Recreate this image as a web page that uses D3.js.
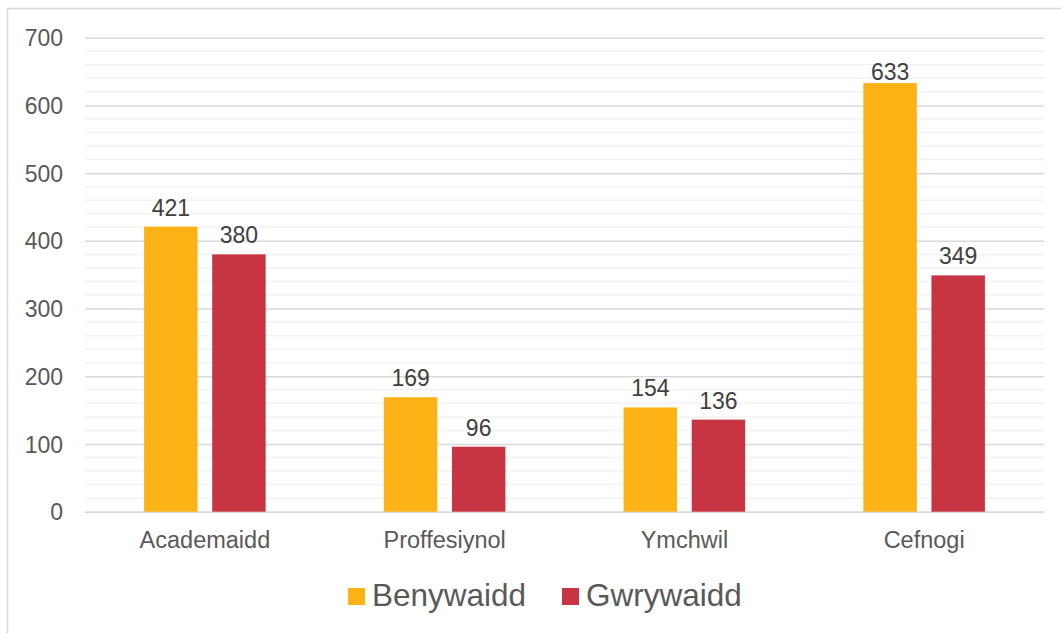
<!DOCTYPE html>
<html>
<head>
<meta charset="utf-8">
<script src="https://cdn.jsdelivr.net/npm/d3@7"></script>
<style>
  html, body { margin: 0; padding: 0; background: #fff; }
  svg { display: block; font-family: "Liberation Sans", Arial, sans-serif; }
</style>
</head>
<body>
<svg id="chart" width="1061" height="633"></svg>
<script>
const categories = ["Academaidd", "Proffesiynol", "Ymchwil", "Cefnogi"];
const seriesNames = ["Benywaidd", "Gwrywaidd"];
const benywaidd = [421, 169, 154, 633];
const gwrywaidd = [380, 96, 136, 349];
const seriesColors = ["#FDB316", "#C83542"];
const yTicks = [0, 100, 200, 300, 400, 500, 600, 700];

const seriesValues = [benywaidd, gwrywaidd];
const svg = d3.select("#chart");
const W = 1061, H = 633;
const plot = { left: 85, right: 1044, top: 37.7, bottom: 511.7 };

// outer frame
svg.append("rect")
  .attr("x", 7.5).attr("y", 8.5)
  .attr("width", W + 10).attr("height", H + 10)
  .attr("fill", "#fff").attr("stroke", "#d9d9d9").attr("stroke-width", 1.5);

const y = d3.scaleLinear().domain([0, 700]).range([plot.bottom, plot.top]);
const x0 = d3.scaleBand().domain(categories).range([plot.left, plot.right]).padding(0);
const groupW = x0.bandwidth() * 0.507;
const x1 = d3.scaleBand().domain(seriesNames).range([0, groupW]).paddingInner(0.215);

// minor gridlines
const minor = d3.range(0, 701, 20).filter(v => v % 100 !== 0);
svg.append("g").selectAll("line").data(minor).join("line")
  .attr("x1", plot.left).attr("x2", plot.right)
  .attr("y1", d => y(d)).attr("y2", d => y(d))
  .attr("stroke", "#f2f2f2").attr("stroke-width", 1.5);

// major gridlines and value axis labels
const yAxis = d3.axisLeft(y).tickValues(yTicks).tickSize(-(plot.right - plot.left)).tickPadding(22);
const gy = svg.append("g").attr("transform", `translate(${plot.left},0)`).call(yAxis);
gy.select(".domain").remove();
gy.selectAll(".tick line").attr("stroke", "#d9d9d9").attr("stroke-width", 1.5);
gy.selectAll(".tick text").attr("fill", "#595959").style("font-size", "23px")
  .attr("dy", "0.35em");

// category axis
const xAxis = d3.axisBottom(x0).tickSize(0).tickPadding(20);
const gx = svg.append("g").attr("transform", `translate(0,${plot.bottom})`).call(xAxis);
gx.select(".domain").attr("stroke", "#d9d9d9").attr("stroke-width", 1.5);
gx.selectAll(".tick text").attr("fill", "#595959").style("font-size", "23.5px").attr("dy", "0.71em");

// bars
const rows = categories.map((c, i) => ({ cat: c, vals: seriesNames.map((s, j) => ({ s, j, v: seriesValues[j][i] })) }));
const groups = svg.append("g").selectAll("g").data(rows).join("g")
  .attr("transform", d => `translate(${x0(d.cat) + (x0.bandwidth() - groupW) / 2},0)`);
groups.selectAll("rect").data(d => d.vals).join("rect")
  .attr("x", d => x1(d.s)).attr("width", x1.bandwidth())
  .attr("y", d => y(d.v)).attr("height", d => y(0) - y(d.v))
  .attr("fill", d => seriesColors[d.j]);

// value labels above bars, kept inside the plot area
groups.selectAll("text").data(d => d.vals).join("text")
  .attr("x", d => x1(d.s) + x1.bandwidth() / 2)
  .attr("y", d => Math.max(y(d.v) - 11, 80))
  .attr("text-anchor", "middle").attr("fill", "#404040")
  .style("font-size", "23px").text(d => d.v);

// legend
const legendItems = [
  { name: seriesNames[0], color: seriesColors[0], x: 348 },
  { name: seriesNames[1], color: seriesColors[1], x: 562 }
];
const lg = svg.append("g");
legendItems.forEach(it => {
  lg.append("rect").attr("x", it.x).attr("y", 588).attr("width", 17).attr("height", 17).attr("fill", it.color);
  lg.append("text").attr("x", it.x + 24).attr("y", 606).attr("fill", "#595959")
    .style("font-size", "31.5px").text(it.name);
});
</script>
</body>
</html>
